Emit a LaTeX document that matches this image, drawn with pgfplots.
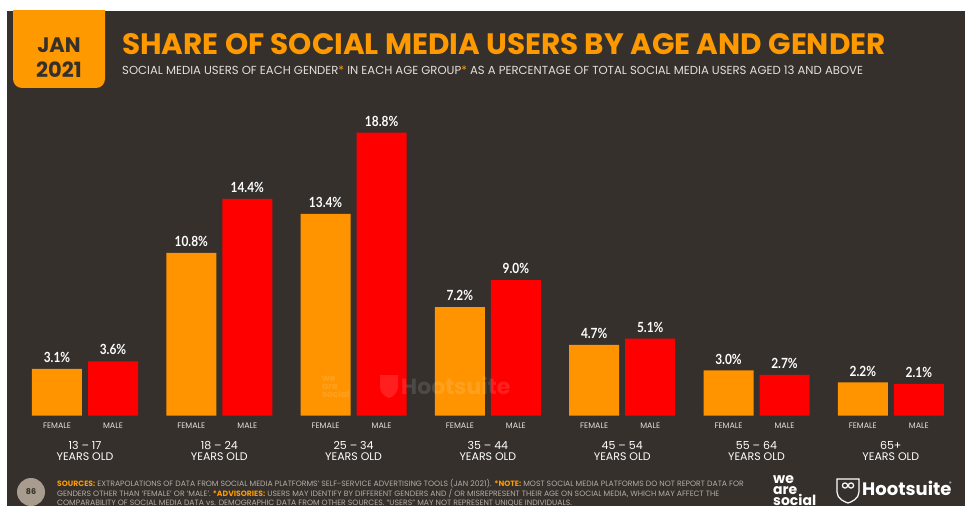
\documentclass[border=0pt]{standalone}
\usepackage{pgfplots}
\pgfplotsset{compat=1.18}
\usepackage{fontspec}
\setmainfont{Poppins}
\newfontfamily\condfont[FakeStretch=0.85]{Lato}
\definecolor{bgc}{HTML}{35302C}
\definecolor{orc}{HTML}{FF9900}
\definecolor{barorc}{HTML}{FF9400}
\definecolor{redc}{HTML}{FF0000}
\definecolor{srcc}{HTML}{B5ADA5}
\definecolor{circc}{HTML}{A89C8E}
\definecolor{lblc}{HTML}{E4DFDA}

\begin{document}
\begin{tikzpicture}[x=1pt,y=1pt]
\useasboundingbox (0,0) rectangle (965,506);
\fill[white] (0,0) rectangle (965,506);
\fill[bgc] (7,0) rectangle (965,495);
\begin{scope}
\clip (7,0) rectangle (965,495);
\fill[orc, rounded corners=9pt] (13,520) rectangle (105,418);
\end{scope}
\node[inner sep=0pt, font=\bfseries\fontsize{21}{21}\selectfont, text=bgc] at (59,461) {JAN};
\node[inner sep=0pt, font=\bfseries\fontsize{21}{21}\selectfont, text=bgc] at (59,436.5) {2021};

\node[anchor=base west, inner sep=0pt, font=\bfseries\fontsize{29.5}{29.5}\selectfont, text=orc] at (122,451) {SHARE OF SOCIAL MEDIA USERS BY AGE AND GENDER};
\node[anchor=base west, inner sep=0pt, font=\fontsize{11.65}{11.65}\selectfont, text=lblc] at (122,431) {SOCIAL MEDIA USERS OF EACH GENDER{\color{orc}*} IN EACH AGE GROUP{\color{orc}*} AS A PERCENTAGE OF TOTAL SOCIAL MEDIA USERS AGED 13 AND ABOVE};

\begin{axis}[
  at={(17.85pt,90.5pt)}, anchor=south west,
  scale only axis, width=940.1pt, height=301pt,
  xmin=-0.5, xmax=6.5, ymin=0, ymax=20,
  axis line style={draw=none}, ytick=\empty, major tick length=0pt,
  clip=false,
  ybar, bar width=50pt, bar shift=0pt,
  /pgf/number format/assume math mode=true,
  xtick={-0.2085,0.2085,0.7915,1.2085,1.7915,2.2085,2.7915,3.2085,3.7915,4.2085,4.7915,5.2085,5.7915,6.2085},
  xticklabels={FEMALE,MALE,FEMALE,MALE,FEMALE,MALE,FEMALE,MALE,FEMALE,MALE,FEMALE,MALE,FEMALE,MALE},
  xticklabel style={font=\fontsize{8}{8}\selectfont, text=lblc, inner sep=0pt, anchor=north, yshift=-7pt},
  extra x ticks={0,1,2,3,4,5,6},
  extra x tick labels={{13 – 17\\YEARS OLD},{18 – 24\\YEARS OLD},{25 – 34\\YEARS OLD},{35 – 44\\YEARS OLD},{45 – 54\\YEARS OLD},{55 – 64\\YEARS OLD},{65+\\YEARS OLD}},
  extra x tick style={xticklabel style={font=\fontsize{11}{11}\selectfont, text=white, align=center, yshift=-18.5pt}},
  nodes near coords={\pgfmathprintnumber[fixed,fixed zerofill,precision=1]{\pgfplotspointmeta}\%},
  every node near coord/.append style={font=\condfont\bfseries\fontsize{14}{14}\selectfont, text=white, inner sep=0pt, anchor=south, yshift=6pt},
]
\addplot[fill=barorc, draw=none, bar shift=0pt] coordinates {(-0.2085,3.1) (0.7915,10.8) (1.7915,13.4) (2.7915,7.2) (3.7915,4.7) (4.7915,3.0) (5.7915,2.2)};
\addplot[fill=redc, draw=none, bar shift=0pt] coordinates {(0.2085,3.6) (1.2085,14.4) (2.2085,18.8) (3.2085,9.0) (4.2085,5.1) (5.2085,2.7) (6.2085,2.1)};
\end{axis}

% watermark
\begin{scope}[opacity=0.12]
\node[anchor=base west, inner sep=0pt, text=white, font=\bfseries\fontsize{9}{9}\selectfont] at (322,125) {we};
\node[anchor=base west, inner sep=0pt, text=white, font=\bfseries\fontsize{9}{9}\selectfont] at (322,117) {are};
\node[anchor=base west, inner sep=0pt, text=white, font=\bfseries\fontsize{9}{9}\selectfont] at (322,109) {social};
\fill[white] (380,131) -- (398,131) -- (398,120) .. controls (398,112) and (392,109) .. (389,108) .. controls (386,109) and (380,112) .. (380,120) -- cycle;
\node[anchor=west, inner sep=0pt, text=white, font=\bfseries\fontsize{22}{22}\selectfont] at (401,120) {Hootsuite};
\end{scope}

% footer
\fill[circc] (31,14) circle (14);
\node[inner sep=0pt, font=\bfseries\fontsize{8}{8}\selectfont, text=bgc] at (31,14) {86};
\begin{scope}[every node/.style={anchor=base west, inner sep=0pt, text=srcc, font=\fontsize{7.7}{7.7}\selectfont}]
\node at (57,19.5) {{\color{orc}\bfseries SOURCES:} EXTRAPOLATIONS OF DATA FROM SOCIAL MEDIA PLATFORMS' SELF-SERVICE ADVERTISING TOOLS (JAN 2021). {\color{orc}\bfseries *NOTE:} MOST SOCIAL MEDIA PLATFORMS DO NOT REPORT DATA FOR};
\node at (57,9.5) {GENDERS OTHER THAN `FEMALE' OR `MALE'. {\color{orc}\bfseries *ADVISORIES:} USERS MAY IDENTIFY BY DIFFERENT GENDERS AND / OR MISREPRESENT THEIR AGE ON SOCIAL MEDIA, WHICH MAY AFFECT THE};
\node at (57,0.8) {COMPARABILITY OF SOCIAL MEDIA DATA vs. DEMOGRAPHIC DATA FROM OTHER SOURCES. ``USERS'' MAY NOT REPRESENT UNIQUE INDIVIDUALS.};
\end{scope}

% logos
\begin{scope}[every node/.style={anchor=base west, inner sep=0pt, text=white, font=\bfseries\fontsize{14}{14}\selectfont}]
\node at (773,22.5) {we};
\node at (773,11.5) {are};
\node at (773,0.5) {social};
\end{scope}
\draw[white, line width=1.2pt] (837,27) -- (859,27) -- (859,14) .. controls (859,7) and (851,4) .. (848,3) .. controls (845,4) and (837,7) .. (837,14) -- cycle;
\draw[white, line width=1.2pt] (845,20.5) circle (2.6) (851,20.5) circle (2.6);
\node[anchor=west, inner sep=0pt, text=white, font=\bfseries\fontsize{18}{18}\selectfont] at (862,18) {Hootsuite};
\node[anchor=west, inner sep=0pt, text=white, font=\fontsize{5}{5}\selectfont] at (949,22) {®};
\end{tikzpicture}
\end{document}
